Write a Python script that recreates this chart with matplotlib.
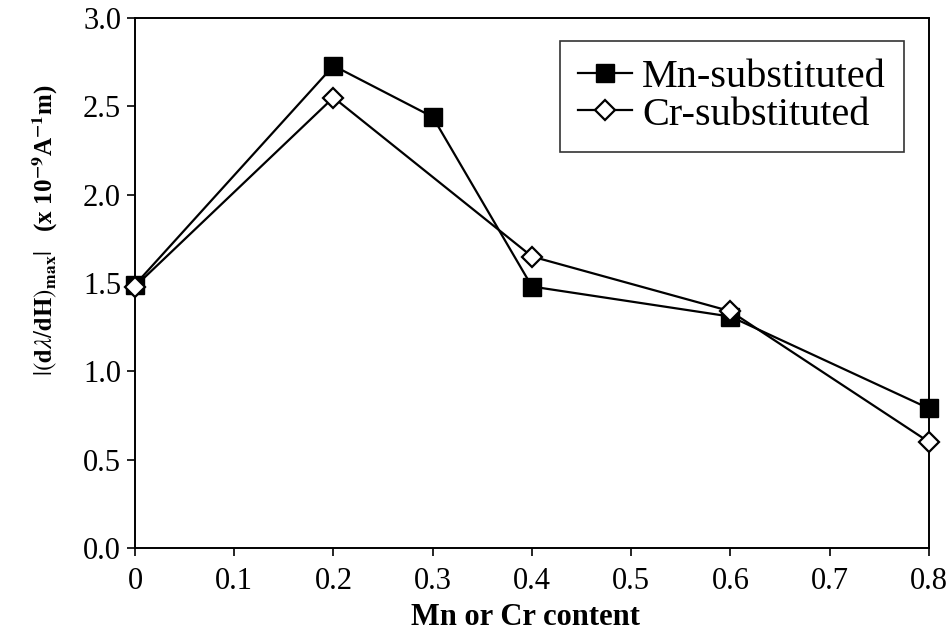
import numpy as np
import matplotlib.pyplot as plt

plt.rcParams['font.family'] = 'Liberation Serif'
plt.rcParams['mathtext.fontset'] = 'stix'

content_mn = [0.0, 0.2, 0.3, 0.4, 0.6, 0.8]
dldh_mn = [1.49, 2.73, 2.44, 1.48, 1.31, 0.79]

content_cr = [0.0, 0.2, 0.4, 0.6, 0.8]
dldh_cr = [1.48, 2.55, 1.65, 1.34, 0.60]

xticks = [0, 0.1, 0.2, 0.3, 0.4, 0.5, 0.6, 0.7, 0.8]
xtick_labels = ['0', '0.1', '0.2', '0.3', '0.4', '0.5', '0.6', '0.7', '0.8']
yticks = [0.0, 0.5, 1.0, 1.5, 2.0, 2.5, 3.0]


def main():
    fig = plt.figure(figsize=(9.52, 6.39), dpi=100)
    ax = fig.add_axes([0.1418, 0.1424, 0.834, 0.8294])

    ax.plot(content_mn, dldh_mn, color='black', lw=1.6, marker='s',
            ms=13, mfc='black', mec='black', label='Mn-substituted',
            zorder=3, clip_on=False)
    ax.plot(content_cr, dldh_cr, color='black', lw=1.6, marker='D',
            ms=10, mfc='white', mec='black', mew=1.6, label='Cr-substituted',
            zorder=4, clip_on=False)

    ax.set_xlim(0, 0.8)
    ax.set_ylim(0, 3.0)
    ax.set_xticks(xticks)
    ax.set_xticklabels(xtick_labels)
    ax.set_yticks(yticks)
    ax.set_yticklabels(['%.1f' % v for v in yticks])
    ax.tick_params(direction='out', length=6, width=1.2, labelsize=22, pad=4)
    ax.tick_params(axis='x', pad=8)
    for s in ax.spines.values():
        s.set_linewidth(1.4)
    ax.spines['right'].set_linestyle((0, (2, 1)))

    ax.set_xlabel('Mn or Cr content', fontsize=22, fontweight='bold')
    ax.xaxis.set_label_coords(0.492, -0.104)
    ax.xaxis.label.set_va('top')
    ax.set_ylabel(r'$|(\mathbf{d}\lambda/\mathbf{dH})_{\mathbf{max}}|$   '
                  r'(x 10$^{\mathbf{-9}}$A$^{\mathbf{-1}}$m)',
                  fontsize=18, fontweight='bold')
    ax.yaxis.set_label_coords(-0.095, 0.6)

    leg = ax.legend(loc='upper right', bbox_to_anchor=(0.9686, 0.9566),
                    borderaxespad=0, fontsize=29, frameon=True, fancybox=False,
                    handlelength=1.35, handletextpad=0.25, borderpad=0.45,
                    labelspacing=0.0)
    leg.get_frame().set_edgecolor('black')
    leg.get_frame().set_linewidth(1.2)

    fig.savefig('out.png', dpi=100)


if __name__ == '__main__':
    main()
